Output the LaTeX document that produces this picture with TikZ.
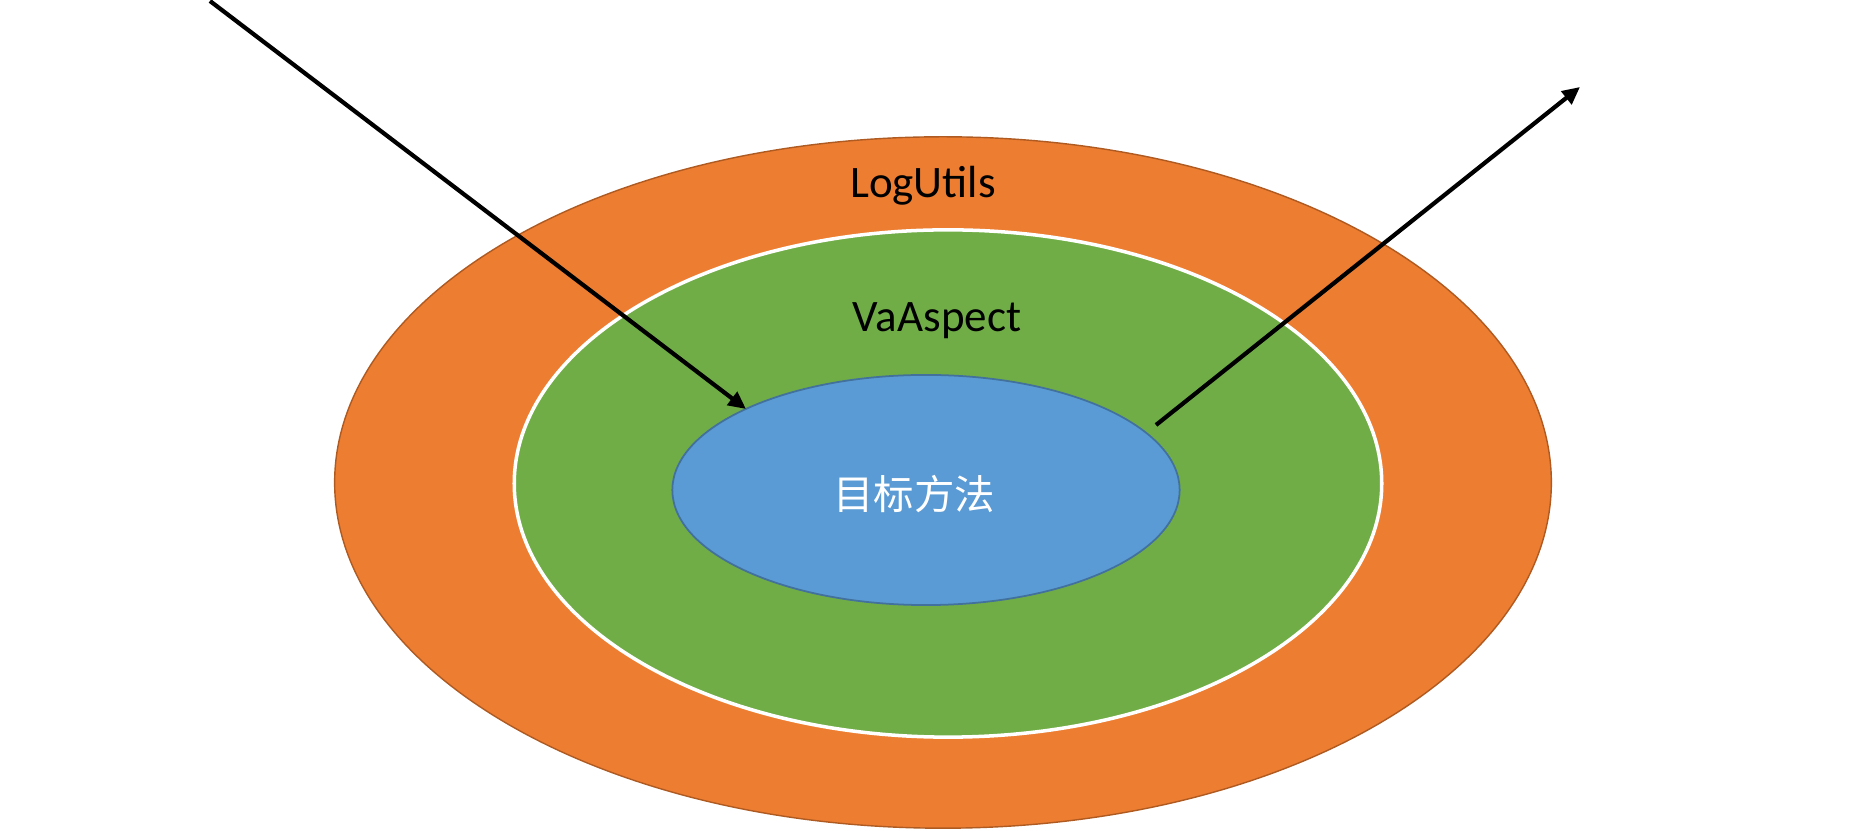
\documentclass[tikz,border=0pt]{standalone}
\usepackage{fontspec}
\setmainfont{Carlito}
\newfontfamily\cjk{Noto Sans CJK SC}
\usetikzlibrary{shapes.geometric,arrows.meta}
\definecolor{orangeF}{HTML}{ED7D31}
\definecolor{orangeD}{HTML}{AE5A21}
\definecolor{greenF}{HTML}{70AD47}
\definecolor{blueF}{HTML}{5B9BD5}
\definecolor{blueD}{HTML}{41719C}
\tikzset{
  ring/.style={ellipse, inner sep=0pt, outer sep=0pt},
  lbl/.style={font=\fontsize{12.8pt}{15pt}\selectfont, text=black},
  flow/.style={line width=1.2pt, draw=black, -{Triangle[length=5pt,width=4.6pt]}}
}
\begin{document}
\begin{tikzpicture}[x=0.01cm,y=-0.01cm]
\useasboundingbox (0,0) rectangle (1850,831);
\node[ring, fill=orangeF, draw=orangeD, line width=0.4pt, minimum width=12.16cm, minimum height=6.91cm] (outer) at (943,482.5) {};
\node[ring, fill=greenF, draw=white, line width=1pt, minimum width=8.67cm, minimum height=5.07cm] (mid) at (948,483.5) {};
\node[ring, fill=blueF, draw=blueD, line width=0.5pt, minimum width=5.07cm, minimum height=2.30cm] (inner) at (926,490) {};
\node[lbl] (log) at (923,186) {LogUtils};
\node[lbl] (va) at (937,321) {VaAspect};
\node[font=\cjk\fontsize{11.5pt}{14pt}\selectfont, text=white] (tgt) at (914,494) {目标方法};
\coordinate (inStart) at (210,1);
\coordinate (inEnd) at (746,409);
\coordinate (outStart) at (1156,425);
\coordinate (outEnd) at (1580,87);
\draw[flow] (inStart) -- (inEnd);
\draw[flow] (outStart) -- (outEnd);
\end{tikzpicture}
\end{document}
